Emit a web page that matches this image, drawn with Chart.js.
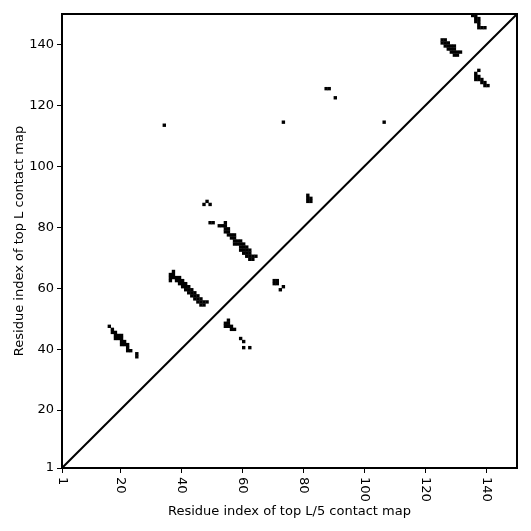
<!DOCTYPE html>
<html lang="en">
<head>
    <meta charset="UTF-8">
    <title>Contact map</title>
    <style>
        html, body { margin: 0; padding: 0; background: #fff; }
    </style>
</head>
<body>
<!-- chart area -->
<div>
    <canvas id="myChart" width="531" height="531"></canvas>
</div>

<script src="https://cdn.jsdelivr.net/npm/chart.js"></script>

<script>
    // axis ticks
    const tickValues = [1, 20, 40, 60, 80, 100, 120, 140];
    const axisMin = 1;
    const axisMax = 150;

    // contact cells (x = residue i, y = residue j)
    const topRightA = [[135,150],[135,149],[136,149],[136,148],[137,148],[136,147],[137,147],[137,146],[137,145],[138,145],[139,145]];
    const topRightB = [[125,141],[126,141],[125,140],[126,140],[127,140],[126,139],[127,139],[128,139],[129,139],[127,138],[128,138],[129,138],[128,137],[129,137],[130,137],[131,137],[129,136],[130,136]];
    const topRightC = [[137,131],[136,130],[136,129],[137,129],[136,128],[137,128],[138,128],[138,127],[139,127],[139,126],[140,126]];
    const midUpper = [[47,87],[48,88],[49,87],[49,81],[50,81],[54,81],[52,80],[53,80],[54,80],[54,79],[55,79],[54,78],[55,78],
        [55,77],[56,77],[57,77],[56,76],[57,76],[57,75],[58,75],[59,75],[57,74],[58,74],[59,74],[60,74],[59,73],[60,73],[61,73],
        [59,72],[60,72],[61,72],[62,72],[60,71],[61,71],[62,71],[61,70],[62,70],[63,70],[64,70],[62,69],[63,69]];
    const midLower = [[37,65],[36,64],[37,64],[36,63],[37,63],[38,63],[39,63],[36,62],[38,62],[39,62],[40,62],[39,61],[40,61],[41,61],
        [40,60],[41,60],[42,60],[41,59],[42,59],[43,59],[42,58],[43,58],[44,58],[43,57],[44,57],[45,57],[44,56],[45,56],[46,56],
        [45,55],[46,55],[47,55],[48,55],[46,54],[47,54]];
    const lowLeft = [[16,47],[17,46],[17,45],[18,45],[18,44],[19,44],[20,44],[18,43],[19,43],[20,43],[20,42],[21,42],[20,41],[21,41],
        [22,41],[22,40],[22,39],[23,39],[25,38],[25,37]];
    const lowMid = [[55,49],[54,48],[55,48],[54,47],[55,47],[56,47],[56,46],[57,46],[59,43],[60,42],[60,40],[62,40]];
    const scattered = [[70,62],[71,62],[70,61],[71,61],[72,59],[73,60],[81,90],[81,89],[82,89],[81,88],[82,88],
        [34,113],[73,114],[87,125],[88,125],[90,122],[106,114]];

    const contacts = [].concat(topRightA, topRightB, topRightC, midUpper, midLower, lowLeft, lowMid, scattered);
    const diagonal = [[axisMin, axisMin], [axisMax, axisMax]];

    // each cell covers [i, i+1] x [j, j+1]
    const cellOffset = 0.5;

    const FONT = "'DejaVu Sans', sans-serif";

    // frame + rotated x tick labels (clockwise, like the original)
    const framePlugin = {
        id: 'frame',
        afterDraw(chart) {
            const {ctx, chartArea: a, scales: {x}} = chart;
            ctx.save();
            ctx.strokeStyle = '#000';
            ctx.lineWidth = 2;
            ctx.strokeRect(a.left, a.top, a.right - a.left, a.bottom - a.top);
            ctx.fillStyle = '#000';
            ctx.font = '13px ' + FONT;
            ctx.textAlign = 'left';
            ctx.textBaseline = 'middle';
            tickValues.forEach(v => {
                const px = x.getPixelForValue(v);
                ctx.save();
                ctx.translate(px, a.bottom + 9);
                ctx.rotate(Math.PI / 2);
                ctx.fillText(String(v), 0, 0);
                ctx.restore();
            });
            ctx.restore();
        }
    };

    const setTicks = scale => { scale.ticks = tickValues.map(v => ({value: v})); };

    new Chart(document.getElementById('myChart'), {
        type: 'scatter',
        data: {
            datasets: [
                {
                    data: contacts.map(p => ({x: p[0] + cellOffset, y: p[1] + cellOffset})),
                    pointStyle: 'rect',
                    pointRadius: 2.4,
                    pointBorderWidth: 0,
                    backgroundColor: '#000',
                    borderColor: '#000'
                },
                {
                    type: 'line',
                    data: diagonal.map(p => ({x: p[0], y: p[1]})),
                    borderColor: '#000',
                    borderWidth: 2,
                    pointRadius: 0,
                    fill: false
                }
            ]
        },
        options: {
            responsive: false,
            animation: false,
            layout: { padding: {left: 0, top: 14, right: 14, bottom: 0} },
            plugins: {
                legend: { display: false },
                tooltip: { enabled: false }
            },
            scales: {
                x: {
                    type: 'linear',
                    min: axisMin,
                    max: axisMax,
                    afterBuildTicks: setTicks,
                    afterFit: s => { s.height = 63; },
                    grid: { drawOnChartArea: false, tickLength: 5, color: '#000', lineWidth: 1 },
                    border: { display: true, color: '#000', width: 2 },
                    ticks: { color: 'rgba(0,0,0,0)', font: {family: FONT, size: 13}, minRotation: 90, maxRotation: 90 },
                    title: {
                        display: true,
                        text: 'Residue index of top L/5 contact map',
                        color: '#000',
                        font: {family: FONT, size: 13},
                        padding: {top: 0, bottom: 12}
                    }
                },
                y: {
                    type: 'linear',
                    min: axisMin,
                    max: axisMax,
                    afterBuildTicks: setTicks,
                    afterFit: s => { s.width = 62; },
                    grid: { drawOnChartArea: false, tickLength: 5, color: '#000', lineWidth: 1 },
                    border: { display: true, color: '#000', width: 2 },
                    ticks: { color: '#000', font: {family: FONT, size: 13}, padding: 3 },
                    title: {
                        display: true,
                        text: 'Residue index of top L contact map',
                        color: '#000',
                        font: {family: FONT, size: 13},
                        padding: {top: 12, bottom: 0}
                    }
                }
            }
        },
        plugins: [framePlugin]
    });
</script>
</body>
</html>
